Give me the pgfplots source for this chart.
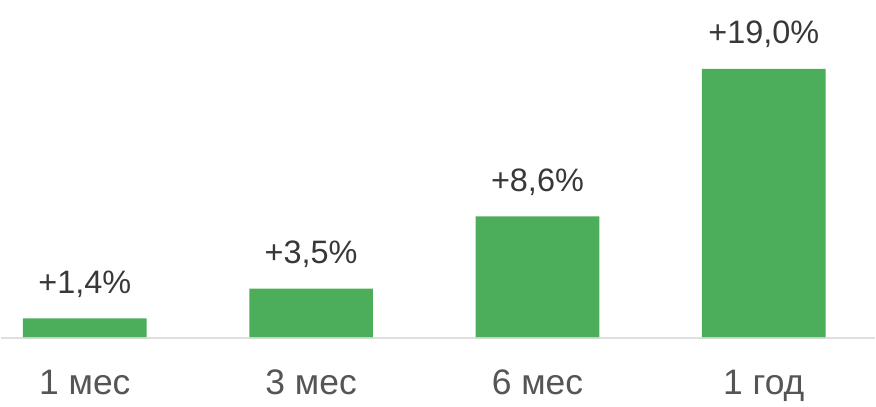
\documentclass[border=0pt]{standalone}
\usepackage{pgfplots}
\pgfplotsset{compat=1.18}
\usepackage{fontspec}
\setmainfont{Liberation Sans}
\definecolor{bargreen}{HTML}{4CAE5B}
\definecolor{lbl}{HTML}{383838}
\definecolor{tck}{HTML}{555555}
\definecolor{base}{HTML}{D9D9D9}
\begin{document}
\begin{tikzpicture}
\begin{axis}[
  width=876pt, height=407pt, scale only axis,
  xmin=-0.3704, xmax=3.4916,
  ymin=-4.78, ymax=23.84,
  axis line style={draw=none},
  major tick length=0pt,
  ytick=\empty,
  xtick={0,1,2,3},
  xticklabels={1 мес,3 мес,6 мес,1 год},
  xticklabel style={anchor=base, yshift=12pt, inner sep=0pt, text=tck, font=\fontsize{35.5}{40}\selectfont},
  ybar, bar width=124pt, bar shift=0pt,
  /pgf/number format/assume math mode=true,
  /pgf/number format/.cd, use comma, fixed, fixed zerofill, precision=1,
  /pgfplots/.cd,
  nodes near coords={+\pgfmathprintnumber{\pgfplotspointmeta}\%},
  nodes near coords style={anchor=base, yshift=25pt, inner sep=0pt, text=lbl, font=\fontsize{32.5}{36}\selectfont},
  clip=false,
]
\addplot[fill=bargreen, draw=none] coordinates {(0,1.4) (1,3.5) (2,8.6) (3,19.0)};
\draw[base, line width=2pt, opacity=0.85] (axis cs:-0.3704,0) -- (axis cs:3.4916,0);
\end{axis}
\end{tikzpicture}
\end{document}
